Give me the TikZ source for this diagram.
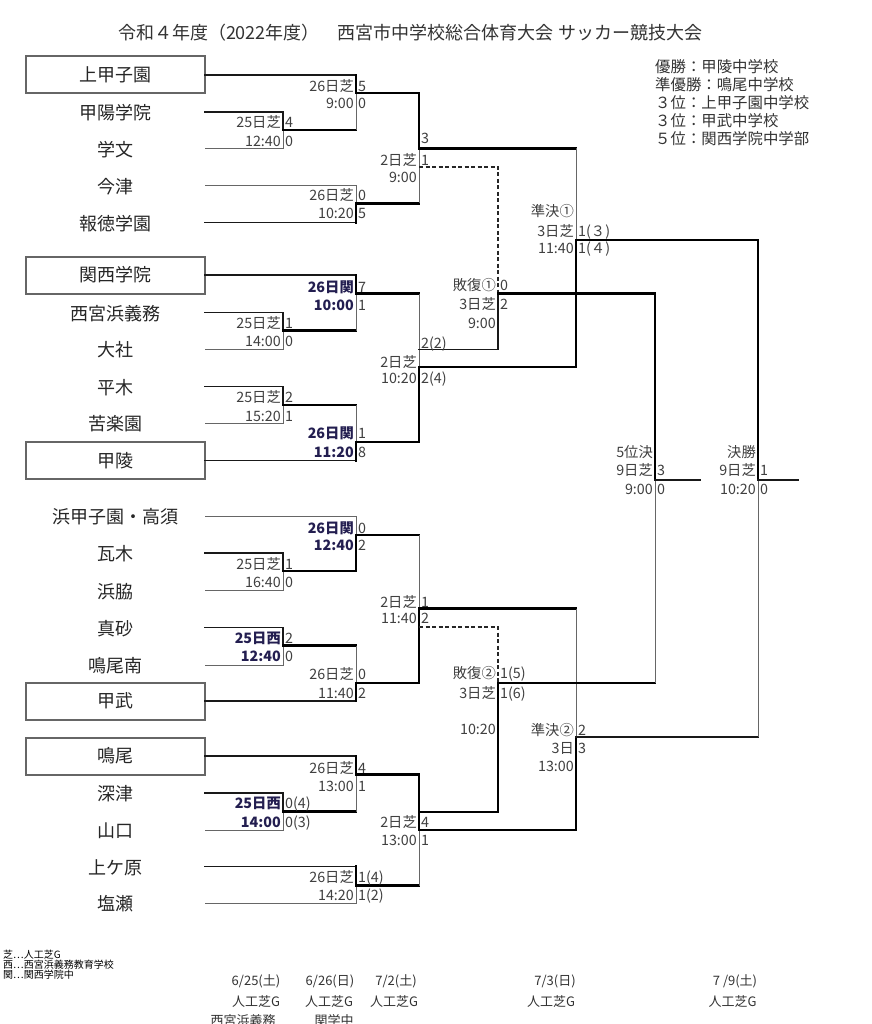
\documentclass[tikz,border=0pt]{standalone}
\usepackage{fontspec}
\newfontfamily\jp{Noto Sans CJK JP}
\definecolor{lblnavy}{RGB}{35,30,80}
\begin{document}
\begin{tikzpicture}[x=1pt,y=-1pt,
  lnthin/.style={draw=black!60, line width=1pt},
  lnmed/.style={draw=black!90, line width=1.5pt, line cap=rect},
  lnthick/.style={draw=black, line width=2.2pt, line cap=rect},
  lndash/.style={draw=black!85, line width=1.8pt, dash pattern=on 4pt off 2.5pt},
  team/.style={font=\jp\fontsize{18}{18}\selectfont, text=black!85, inner sep=0pt, text height=14.6pt, text depth=1pt},
  teambox/.style={team, draw=black!60, line width=2pt, minimum width=179pt, minimum height=37pt},
  lbl/.style={font=\jp\fontsize{14.3}{14.3}\selectfont, text=black!75, inner sep=0pt, text height=11.6pt, text depth=1pt},
  lr/.style={lbl, anchor=east},
  ll/.style={lbl, anchor=west},
  blr/.style={lr, font=\jp\bfseries\fontsize{14.3}{14.3}\selectfont, text=lblnavy},
  ttl/.style={font=\jp\fontsize{18}{18}\selectfont, text=black!80, inner sep=0pt},
  res/.style={font=\jp\fontsize{15.4}{15.4}\selectfont, text=black!80, inner sep=0pt, anchor=west},
  leg/.style={font=\jp\fontsize{10}{10}\selectfont, text=black, inner sep=0pt, anchor=west},
  dte/.style={font=\jp\fontsize{13}{13}\selectfont, text=black!80, inner sep=0pt}
]
\fill[white] (0,0) rectangle (871,1024);
\useasboundingbox (0,0) rectangle (871,1024);

% ---------- title and results ----------
\node[ttl] (title) at (410,33) {令和４年度（2022年度）　西宮市中学校総合体育大会 サッカー競技大会};
\node[res] (r1) at (655,66.7) {優勝：甲陵中学校};
\node[res] (r2) at (655,85) {準優勝：鳴尾中学校};
\node[res] (r3) at (655,102.7) {３位：上甲子園中学校};
\node[res] (r4) at (655,120.3) {３位：甲武中学校};
\node[res] (r5) at (655,138.3) {５位：関西学院中学部};

% ---------- teams ----------
\node[teambox] (T1) at (115.5,75) {上甲子園};
\node[team] (T2) at (115.5,113) {甲陽学院};
\node[team] (T3) at (115.5,149.5) {学文};
\node[team] (T4) at (115.5,186.5) {今津};
\node[team] (T5) at (115.5,223.5) {報徳学園};
\node[teambox] (T6) at (115.5,275) {関西学院};
\node[team] (T7) at (115.5,313.5) {西宮浜義務};
\node[team] (T8) at (115.5,350) {大社};
\node[team] (T9) at (115.5,387.5) {平木};
\node[team] (T10) at (115.5,424) {苦楽園};
\node[teambox] (T11) at (115.5,460.5) {甲陵};
\node[team] (T12) at (115.5,517) {浜甲子園・高須};
\node[team] (T13) at (115.5,554) {瓦木};
\node[team] (T14) at (115.5,591.5) {浜脇};
\node[team] (T15) at (115.5,628.5) {真砂};
\node[team] (T16) at (115.5,666) {鳴尾南};
\node[teambox] (T17) at (115.5,701) {甲武};
\node[teambox] (T18) at (115.5,756) {鳴尾};
\node[team] (T19) at (115.5,794) {深津};
\node[team] (T20) at (115.5,831) {山口};
\node[team] (T21) at (115.5,867.5) {上ケ原};
\node[team] (T22) at (115.5,904) {塩瀬};

% line starts
\coordinate (e1) at (205,75);
\coordinate (e2) at (205,112);
\coordinate (e3) at (205,148.5);
\coordinate (e4) at (205,185.5);
\coordinate (e5) at (205,222.5);
\coordinate (e6) at (205,275);
\coordinate (e7) at (205,312.5);
\coordinate (e8) at (205,349);
\coordinate (e9) at (205,386.5);
\coordinate (e10) at (205,423);
\coordinate (e11) at (205,460.5);
\coordinate (e12) at (205,516);
\coordinate (e13) at (205,553);
\coordinate (e14) at (205,590.5);
\coordinate (e15) at (205,627.5);
\coordinate (e16) at (205,665);
\coordinate (e17) at (205,701);
\coordinate (e18) at (205,756);
\coordinate (e19) at (205,793);
\coordinate (e20) at (205,830);
\coordinate (e21) at (205,866.5);
\coordinate (e22) at (205,903);

% match points
\coordinate (m1) at (283,130);
\coordinate (m2) at (283,330.5);
\coordinate (m3) at (283,405);
\coordinate (m4) at (283,571);
\coordinate (m5) at (283,645.5);
\coordinate (m6) at (283,811.5);
\coordinate (n1) at (356,93);
\coordinate (n2) at (356,203.5);
\coordinate (n3) at (356,293.5);
\coordinate (n4) at (356,442);
\coordinate (n5) at (356,535);
\coordinate (n6) at (356,683);
\coordinate (n7) at (356,774.5);
\coordinate (n8) at (356,885.5);
\coordinate (q1w) at (419,148.5);
\coordinate (q1l) at (419,167);
\coordinate (q2l) at (419,349.5);
\coordinate (q2w) at (419,367);
\coordinate (q3w) at (419,608.5);
\coordinate (q3l) at (419,627);
\coordinate (q4l) at (419,812);
\coordinate (q4w) at (419,830);
\coordinate (fb1) at (498,293.5);
\coordinate (fb2) at (498,683);
\coordinate (s1) at (576,240);
\coordinate (s2) at (576,737);
\coordinate (f5) at (655,480);
\coordinate (fn) at (758,480);
\coordinate (f5e) at (700,480);
\coordinate (fne) at (798,480);

% ---------- round 1 (25日) ----------
\draw[lnthin] (e3) -| (m1);  \draw[lnmed] (e2) -| (m1);
\draw[lnthin] (e8) -| (m2);  \draw[lnmed] (e7) -| (m2);
\draw[lnthin] (e10) -| (m3); \draw[lnmed] (e9) -| (m3);
\draw[lnthin] (e14) -| (m4); \draw[lnmed] (e13) -| (m4);
\draw[lnthin] (e16) -| (m5); \draw[lnmed] (e15) -| (m5);
\draw[lnthin] (e20) -| (m6); \draw[lnmed] (e19) -| (m6);

% ---------- round 2 (26日) ----------
\draw[lnthick] (m1) -- (m1 -| n1); \draw[lnthin] (m1 -| n1) -- (n1);
\draw[lnmed] (e1) -- (e1 -| n1); \draw[lnthick] (e1 -| n1) -- (n1);
\draw[lnthin] (e4) -| (n2);
\draw[lnmed] (e5) -- (e5 -| n2); \draw[lnthick] (e5 -| n2) -- (n2);
\draw[lnthick] (m2) -- (m2 -| n3); \draw[lnthin] (m2 -| n3) -- (n3);
\draw[lnmed] (e6) -- (e6 -| n3); \draw[lnthick] (e6 -| n3) -- (n3);
\draw[lnthick] (m3) -- (m3 -| n4); \draw[lnthin] (m3 -| n4) -- (n4);
\draw[lnmed] (e11) -- (e11 -| n4); \draw[lnthick] (e11 -| n4) -- (n4);
\draw[lnthin] (e12) -| (n5);
\draw[lnthick] (m4) -| (n5);
\draw[lnthick] (m5) -- (m5 -| n6); \draw[lnthin] (m5 -| n6) -- (n6);
\draw[lnmed] (e17) -- (e17 -| n6); \draw[lnthick] (e17 -| n6) -- (n6);
\draw[lnthick] (m6) -- (m6 -| n7); \draw[lnthin] (m6 -| n7) -- (n7);
\draw[lnmed] (e18) -- (e18 -| n7); \draw[lnthick] (e18 -| n7) -- (n7);
\draw[lnthin] (e22) -| (n8);
\draw[lnmed] (e21) -- (e21 -| n8); \draw[lnthick] (e21 -| n8) -- (n8);

% ---------- round 3 (2日) ----------
\draw[lnthick] (n2) -- (n2 -| q1w); \draw[lnthin] (n2 -| q1w) -- (q1w);
\draw[lnthick] (n1) -| (q1w);
\draw[lnthick] (n3) -- (n3 -| q2w); \draw[lnthin] (n3 -| q2w) -- (q2w);
\draw[lnthick] (n4) -| (q2w);
\draw[lnthick] (n5) -- (n5 -| q3w); \draw[lnthin] (n5 -| q3w) -- (q3w);
\draw[lnthick] (n6) -| (q3w);
\draw[lnthick] (n8) -- (n8 -| q4w); \draw[lnthin] (n8 -| q4w) -- (q4w);
\draw[lnthick] (n7) -| (q4w);

% ---------- 敗復 ----------
\draw[lndash] (q1l) -| (fb1);
\draw[lnmed] (q2l) -| (fb1);
\draw[lndash] (q3l) -| (fb2);
\draw[lnthick] (q4l) -| (fb2);

% ---------- 準決 ----------
\draw[lnthick] (q1w) -- (q1w -| s1); \draw[lnthin] (q1w -| s1) -- (s1);
\draw[lnthick] (q2w) -| (s1);
\draw[lnthick] (q3w) -- (q3w -| s2); \draw[lnthin] (q3w -| s2) -- (s2);
\draw[lnthick] (q4w) -| (s2);

% ---------- 5位決 / 決勝 ----------
\draw[lnthick] (fb2) -- (fb2 -| f5); \draw[lnthin] (fb2 -| f5) -- (f5);
\draw[lnthick] (fb1) -| (f5);
\draw[lnmed] (s2) -- (s2 -| fn); \draw[lnthin] (s2 -| fn) -- (fn);
\draw[lnthick] (s1) -| (fn);
\draw[lnmed] (f5) -- (f5e);
\draw[lnmed] (fn) -- (fne);

% ---------- labels round 1 ----------
\node[lr] (a1) at (281,122) {25日芝};   \node[lr] (a2) at (281,141) {12:40};
\node[ll] (a3) at (285,122) {4};        \node[ll] (a4) at (285,141) {0};
\node[lr] (b1) at (281,323) {25日芝};   \node[lr] (b2) at (281,341.5) {14:00};
\node[ll] (b3) at (285,323) {1};        \node[ll] (b4) at (285,341.5) {0};
\node[lr] (c1) at (281,397) {25日芝};   \node[lr] (c2) at (281,416) {15:20};
\node[ll] (c3) at (285,397) {2};        \node[ll] (c4) at (285,416) {1};
\node[lr] (d1) at (281,564) {25日芝};   \node[lr] (d2) at (281,582) {16:40};
\node[ll] (d3) at (285,564) {1};        \node[ll] (d4) at (285,582) {0};
\node[blr] (f1) at (281,637.7) {25日西}; \node[blr] (f2) at (281,656) {12:40};
\node[ll] (f3) at (285,637.7) {2};       \node[ll] (f4) at (285,656) {0};
\node[blr] (g1) at (281,803.3) {25日西}; \node[blr] (g2) at (281,821.7) {14:00};
\node[ll] (g3) at (285,803.3) {0(4)};    \node[ll] (g4) at (285,821.7) {0(3)};

% ---------- labels round 2 ----------
\node[lr] (h1) at (354,86) {26日芝};     \node[lr] (h2) at (354,103) {9:00};
\node[ll] (h3) at (358,86) {5};          \node[ll] (h4) at (358,103) {0};
\node[lr] (i1) at (354,195) {26日芝};    \node[lr] (i2) at (354,213.3) {10:20};
\node[ll] (i3) at (358,195) {0};         \node[ll] (i4) at (358,213.3) {5};
\node[blr] (j1) at (354,286.7) {26日関}; \node[blr] (j2) at (354,305) {10:00};
\node[ll] (j3) at (358,286.7) {7};       \node[ll] (j4) at (358,305) {1};
\node[blr] (k1) at (354,432.7) {26日関}; \node[blr] (k2) at (354,451.7) {11:20};
\node[ll] (k3) at (358,432.7) {1};       \node[ll] (k4) at (358,451.7) {8};
\node[blr] (o1) at (354,528) {26日関};   \node[blr] (o2) at (354,545) {12:40};
\node[ll] (o3) at (358,528) {0};         \node[ll] (o4) at (358,545) {2};
\node[lr] (p1) at (354,674) {26日芝};    \node[lr] (p2) at (354,692.7) {11:40};
\node[ll] (p3) at (358,674) {0};         \node[ll] (p4) at (358,692.7) {2};
\node[lr] (u1) at (354,768.3) {26日芝};  \node[lr] (u2) at (354,785.7) {13:00};
\node[ll] (u3) at (358,768.3) {4};       \node[ll] (u4) at (358,785.7) {1};
\node[lr] (v1) at (354,876.7) {26日芝};  \node[lr] (v2) at (354,895) {14:20};
\node[ll] (v3) at (358,876.7) {1(4)};    \node[ll] (v4) at (358,895) {1(2)};

% ---------- labels round 3 ----------
\node[ll] (w1) at (421,138) {3};
\node[lr] (w2) at (417,160) {2日芝};     \node[ll] (w3) at (421,160) {1};
\node[lr] (w4) at (417,177) {9:00};
\node[ll] (x1) at (421,343) {2(2)};
\node[lr] (x2) at (417,361.7) {2日芝};
\node[lr] (x3) at (417,378) {10:20};     \node[ll] (x4) at (421,378) {2(4)};
\node[lr] (y1) at (417,601.7) {2日芝};   \node[ll] (y2) at (421,601.7) {1};
\node[lr] (y3) at (417,618.3) {11:40};   \node[ll] (y4) at (421,618.3) {2};
\node[lr] (z1) at (417,821.7) {2日芝};   \node[ll] (z2) at (421,821.7) {4};
\node[lr] (z3) at (417,840) {13:00};     \node[ll] (z4) at (421,840) {1};

% ---------- 敗復 labels ----------
\node[lr] (fa1) at (496,285) {敗復①};   \node[ll] (fa2) at (500,285) {0};
\node[lr] (fa3) at (496,304.3) {3日芝};  \node[ll] (fa4) at (500,304.3) {2};
\node[lr] (fa5) at (496,322.7) {9:00};
\node[lr] (fc1) at (496,672.7) {敗復②}; \node[ll] (fc2) at (500,672.7) {1(5)};
\node[lr] (fc3) at (496,692.7) {3日芝};  \node[ll] (fc4) at (500,692.7) {1(6)};
\node[lr] (fc5) at (496,729.3) {10:20};

% ---------- 準決 labels ----------
\node[lr] (sa1) at (574,211.7) {準決①};
\node[lr] (sa2) at (574,231) {3日芝};    \node[ll] (sa3) at (578,231) {1(３)};
\node[lr] (sa4) at (574,248) {11:40};    \node[ll] (sa5) at (578,248) {1(４)};
\node[lr] (sb1) at (574,730) {準決②};   \node[ll] (sb2) at (578,730) {2};
\node[lr] (sb3) at (574,748.3) {3日};    \node[ll] (sb4) at (578,748.3) {3};
\node[lr] (sb5) at (574,766) {13:00};

% ---------- 5位決 / 決勝 labels ----------
\node[lr] (ga1) at (653,451.7) {5位決};
\node[lr] (ga2) at (653,470) {9日芝};    \node[ll] (ga3) at (657,470) {3};
\node[lr] (ga4) at (653,489.3) {9:00};   \node[ll] (ga5) at (657,489.3) {0};
\node[lr] (gb1) at (756,451.7) {決勝};
\node[lr] (gb2) at (756,470) {9日芝};    \node[ll] (gb3) at (760,470) {1};
\node[lr] (gb4) at (756,489.3) {10:20};  \node[ll] (gb5) at (760,489.3) {0};

% ---------- legend ----------
\node[leg] (lg1) at (3,955) {芝…人工芝G};
\node[leg] (lg2) at (3,964.7) {西…西宮浜義務教育学校};
\node[leg] (lg3) at (3,974.3) {関…関西学院中};

% ---------- dates ----------
\node[dte] (da1) at (256,981) {6/25(土)};
\node[dte] (da2) at (256,1001.5) {人工芝G};
\node[dte] (da3) at (243,1021) {西宮浜義務};
\node[dte] (db1) at (330,981) {6/26(日)};
\node[dte] (db2) at (329,1001.5) {人工芝G};
\node[dte] (db3) at (334,1021) {関学中};
\node[dte] (dc1) at (396,981) {7/2(土)};
\node[dte] (dc2) at (394,1001.5) {人工芝G};
\node[dte] (dd1) at (555,981) {7/3(日)};
\node[dte] (dd2) at (551,1001.5) {人工芝G};
\node[dte] (de1) at (735,981) {7 /9(土)};
\node[dte] (de2) at (732.5,1001.5) {人工芝G};
\end{tikzpicture}
\end{document}
